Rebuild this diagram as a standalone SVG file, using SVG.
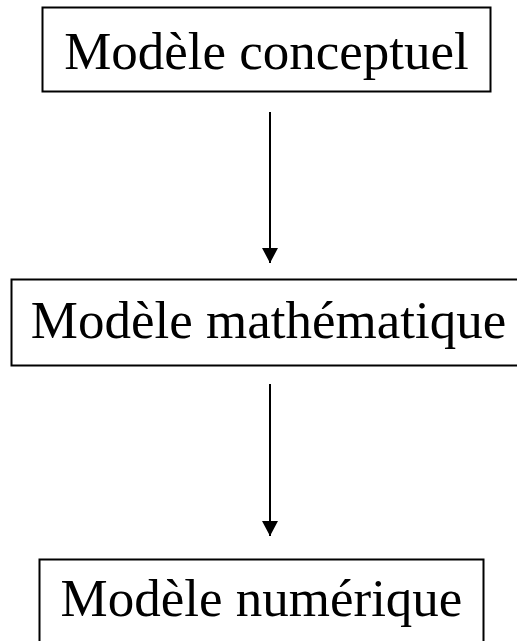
<svg xmlns="http://www.w3.org/2000/svg" width="517" height="641" viewBox="0 0 517 641">
<style>
.box{fill:#fff;stroke:#000;stroke-width:2}
.lbl{font-family:"Liberation Serif","Times New Roman",serif;font-size:53px;fill:#000;text-anchor:middle}
.edge{stroke:#000;stroke-width:2;fill:none}
</style>
<defs>
<marker id="ah" markerUnits="userSpaceOnUse" markerWidth="16" markerHeight="16" refX="15" refY="8" orient="auto">
<path d="M0,0 L15,8 L0,16 Z" fill="#000"/>
</marker>
</defs>
<rect width="517" height="641" fill="#fff"/>
<g id="n1">
<rect class="box" x="42.5" y="7.5" width="448" height="84"/>
<text class="lbl" x="266.5" y="69">Modèle conceptuel</text>
</g>
<g id="n2">
<rect class="box" x="11.5" y="279.5" width="520" height="86"/>
<text class="lbl" x="268.5" y="338">Modèle mathématique</text>
</g>
<g id="n3">
<rect class="box" x="39.5" y="559.5" width="444" height="100"/>
<text class="lbl" x="261.5" y="616">Modèle numérique</text>
</g>
<g id="edges">
<line class="edge" x1="270" y1="112" x2="270" y2="263" marker-end="url(#ah)"/>
<line class="edge" x1="270" y1="384" x2="270" y2="536" marker-end="url(#ah)"/>
</g>
</svg>
